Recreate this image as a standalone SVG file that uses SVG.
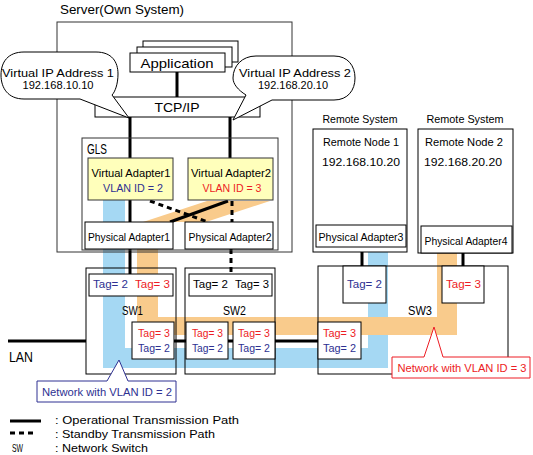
<svg xmlns="http://www.w3.org/2000/svg" width="533" height="455" viewBox="0 0 533 455">
<style>
text{font-family:"Liberation Sans",Arial,sans-serif;font-size:11.5px;fill:#000}
.m{text-anchor:middle}
.s{font-size:10.5px}
.nv{fill:#2E3192}
.rd{fill:#ED1C24}
.box{fill:#fff;stroke:#000;stroke-width:1}
.open{fill:none;stroke:#333;stroke-width:1}
.sw{fill:none;stroke:#000;stroke-width:1}
.va{fill:#FFFFBB;stroke:#333;stroke-width:1}
.op{stroke:#000;stroke-width:3;fill:none}
.sb{stroke:#000;stroke-width:3;fill:none;stroke-dasharray:5 4}
.blue{fill:#A5D8F3}
.orange{fill:#F9CB8C}
</style>

<g id="bands">
<polygon class="blue" points="103,200 125,200 125,348 368,348 368,247 388,247 388,368 103,368"/>
<polygon class="orange" points="143,222 206,222 270,201 207,201"/>
<polygon class="orange" points="137,249 158,249 158,317 437,317 437,253 457,253 457,335 137,335"/>
</g>

<g id="server">
<rect class="open" x="57" y="22" width="235" height="230"/>
<text x="60" y="14" textLength="124" lengthAdjust="spacingAndGlyphs" style="font-size:13px">Server(Own System)</text>
</g>

<g id="application">
<rect class="box" x="143" y="41" width="95" height="21"/>
<rect class="box" x="137" y="47" width="95" height="20"/>
<rect class="box" x="130" y="53" width="95" height="19"/>
<text class="m" x="177" y="68" textLength="73" lengthAdjust="spacingAndGlyphs" style="font-size:13px">Application</text>
</g>

<g id="tcpip">
<rect class="box" x="95" y="97" width="165" height="20"/>
<text class="m" x="177" y="112" textLength="45" lengthAdjust="spacingAndGlyphs" style="font-size:13px">TCP/IP</text>
</g>

<g id="connectors">
<line class="op" x1="177" y1="72" x2="177" y2="97"/>
<line class="op" x1="130" y1="117" x2="130" y2="158"/>
<line class="op" x1="230" y1="117" x2="230" y2="158"/>
<line class="op" x1="130" y1="200" x2="130" y2="222"/>
<line class="op" x1="228" y1="201" x2="170" y2="222"/>
<line class="sb" x1="150" y1="201" x2="208" y2="222"/>
<line class="sb" x1="232" y1="201" x2="232" y2="222"/>
<line class="op" x1="130" y1="249" x2="130" y2="274"/>
<line class="sb" x1="231" y1="249" x2="231" y2="274"/>
<line class="op" x1="362" y1="247" x2="362" y2="266"/>
<line class="op" x1="463" y1="253" x2="463" y2="266"/>
<line class="op" x1="8" y1="341" x2="86" y2="341"/>
<line class="op" x1="174" y1="341" x2="318" y2="341"/>
</g>

<g id="vip1">
<path class="box" d="M24,52 H96 C112,52 118,62 118,74 C118,84 115,92 112,95 L129,118 L80,99 H24 C8,99 1,88 1,75 C1,62 8,52 24,52 Z"/>
<text class="m" x="58" y="77" textLength="112" lengthAdjust="spacingAndGlyphs">Virtual IP Address 1</text>
<text class="m" x="58" y="89" textLength="71" lengthAdjust="spacingAndGlyphs">192.168.10.10</text>
</g>

<g id="vip2">
<path class="box" d="M256,56 H334 C348,56 355,66 355,78 C355,90 348,100 334,100 H272 L233,120 L246,95 C238,90 233,84 233,78 C233,66 242,56 256,56 Z"/>
<text class="m" x="295" y="77" textLength="112" lengthAdjust="spacingAndGlyphs">Virtual IP Address 2</text>
<text class="m" x="293" y="89" textLength="70" lengthAdjust="spacingAndGlyphs">192.168.20.10</text>
</g>

<g id="gls">
<rect class="open" x="82" y="138" width="196" height="112"/>
<text x="87" y="154" textLength="20" lengthAdjust="spacingAndGlyphs" style="font-size:14px">GLS</text>
</g>

<g id="virtual-adapter1">
<rect class="va" x="88" y="158" width="85" height="42"/>
<text class="m s" x="131" y="177" textLength="79" lengthAdjust="spacingAndGlyphs">Virtual Adapter1</text>
<text class="m s nv" x="133" y="192" textLength="60" lengthAdjust="spacingAndGlyphs">VLAN ID = 2</text>
</g>

<g id="virtual-adapter2">
<rect class="va" x="188" y="158" width="85" height="42"/>
<text class="m s" x="231" y="177" textLength="80" lengthAdjust="spacingAndGlyphs">Virtual Adapter2</text>
<text class="m s rd" x="232" y="192" textLength="59" lengthAdjust="spacingAndGlyphs">VLAN ID = 3</text>
</g>

<g id="physical-adapter1">
<rect class="box" x="85" y="222" width="88" height="27"/>
<text class="m s" x="129" y="241" textLength="82" lengthAdjust="spacingAndGlyphs">Physical Adapter1</text>
</g>

<g id="physical-adapter2">
<rect class="box" x="185" y="222" width="88" height="27"/>
<text class="m s" x="230" y="241" textLength="83" lengthAdjust="spacingAndGlyphs">Physical Adapter2</text>
</g>

<g id="remote-node1">
<text class="m" x="360" y="123" textLength="75" lengthAdjust="spacingAndGlyphs">Remote System</text>
<rect class="box" x="313" y="129" width="94" height="123"/>
<text class="m" x="361" y="146" textLength="76" lengthAdjust="spacingAndGlyphs">Remote Node 1</text>
<text class="m" x="361" y="166" textLength="78" lengthAdjust="spacingAndGlyphs">192.168.10.20</text>
<rect class="box" x="316" y="225" width="90" height="22"/>
<text class="m s" x="361" y="241" textLength="85" lengthAdjust="spacingAndGlyphs">Physical Adapter3</text>
</g>

<g id="remote-node2">
<text class="m" x="465" y="123" textLength="77" lengthAdjust="spacingAndGlyphs">Remote System</text>
<rect class="box" x="418" y="129" width="95" height="124"/>
<text class="m" x="464" y="146" textLength="78" lengthAdjust="spacingAndGlyphs">Remote Node 2</text>
<text class="m" x="463" y="166" textLength="78" lengthAdjust="spacingAndGlyphs">192.168.20.20</text>
<rect class="box" x="421" y="226" width="91" height="27"/>
<text class="m s" x="466" y="245" textLength="83" lengthAdjust="spacingAndGlyphs">Physical Adapter4</text>
</g>

<g id="sw1">
<rect class="sw" x="86" y="268" width="90" height="106"/>
<rect class="box" x="89" y="274" width="84" height="22"/>
<text class="nv" x="93" y="288" textLength="35" lengthAdjust="spacingAndGlyphs">Tag= 2</text>
<text class="rd" x="135" y="288" textLength="35" lengthAdjust="spacingAndGlyphs">Tag= 3</text>
<text x="122" y="315" textLength="21" lengthAdjust="spacingAndGlyphs" style="font-size:13px">SW1</text>
<rect class="box" x="132" y="322" width="42" height="37"/>
<text class="rd" x="138" y="337" textLength="32" lengthAdjust="spacingAndGlyphs">Tag= 3</text>
<text class="nv" x="138" y="352" textLength="32" lengthAdjust="spacingAndGlyphs">Tag= 2</text>
</g>

<g id="sw2">
<rect class="sw" x="185" y="268" width="90" height="106"/>
<rect class="box" x="189" y="274" width="83" height="22"/>
<text x="193" y="288" textLength="35" lengthAdjust="spacingAndGlyphs">Tag= 2</text>
<text x="235" y="288" textLength="34" lengthAdjust="spacingAndGlyphs">Tag= 3</text>
<text x="223" y="315" textLength="23" lengthAdjust="spacingAndGlyphs" style="font-size:13px">SW2</text>
<rect class="box" x="186" y="322" width="42" height="37"/>
<text class="rd" x="192" y="337" textLength="31" lengthAdjust="spacingAndGlyphs">Tag= 3</text>
<text class="nv" x="192" y="352" textLength="31" lengthAdjust="spacingAndGlyphs">Tag= 2</text>
<rect class="box" x="233" y="322" width="42" height="37"/>
<text class="rd" x="238" y="337" textLength="32" lengthAdjust="spacingAndGlyphs">Tag= 3</text>
<text class="nv" x="238" y="352" textLength="32" lengthAdjust="spacingAndGlyphs">Tag= 2</text>
</g>

<g id="sw3">
<rect class="sw" x="318" y="266" width="190" height="108"/>
<rect class="box" x="343" y="266" width="43" height="37"/>
<text class="nv" x="347" y="288" textLength="35" lengthAdjust="spacingAndGlyphs">Tag= 2</text>
<rect class="box" x="442" y="266" width="42" height="37"/>
<text class="rd" x="446" y="288" textLength="35" lengthAdjust="spacingAndGlyphs">Tag= 3</text>
<text x="408" y="315" textLength="24" lengthAdjust="spacingAndGlyphs" style="font-size:13px">SW3</text>
<rect class="box" x="318" y="322" width="43" height="37"/>
<text class="rd" x="323" y="337" textLength="33" lengthAdjust="spacingAndGlyphs">Tag= 3</text>
<text class="nv" x="323" y="352" textLength="33" lengthAdjust="spacingAndGlyphs">Tag= 2</text>
</g>

<g id="lan">
<text x="9" y="362" textLength="24" lengthAdjust="spacingAndGlyphs" style="font-size:15px">LAN</text>
</g>

<g id="vlan2-callout">
<path d="M37,381 H107 L119,360 L128,381 H176 V402 H37 Z" fill="#fff" stroke="#2E3192" stroke-width="1"/>
<text class="m s nv" x="107" y="396" textLength="130" lengthAdjust="spacingAndGlyphs">Network with VLAN ID = 2</text>
</g>

<g id="vlan3-callout">
<path d="M392,357 H424 L434,327 L443,357 H530 V378 H392 Z" fill="#fff" stroke="#ED1C24" stroke-width="1"/>
<text class="m s rd" x="462" y="372" textLength="129" lengthAdjust="spacingAndGlyphs">Network with VLAN ID = 3</text>
</g>

<g id="legend">
<line class="op" x1="10" y1="421" x2="41" y2="421"/>
<text x="55" y="424" textLength="184" lengthAdjust="spacingAndGlyphs">: Operational Transmission Path</text>
<line class="sb" x1="10" y1="433" x2="37" y2="433"/>
<text x="55" y="438" textLength="160" lengthAdjust="spacingAndGlyphs">: Standby Transmission Path</text>
<text x="12" y="452" textLength="11" lengthAdjust="spacingAndGlyphs">SW</text>
<text x="55" y="452" textLength="93" lengthAdjust="spacingAndGlyphs">: Network Switch</text>
</g>
</svg>
